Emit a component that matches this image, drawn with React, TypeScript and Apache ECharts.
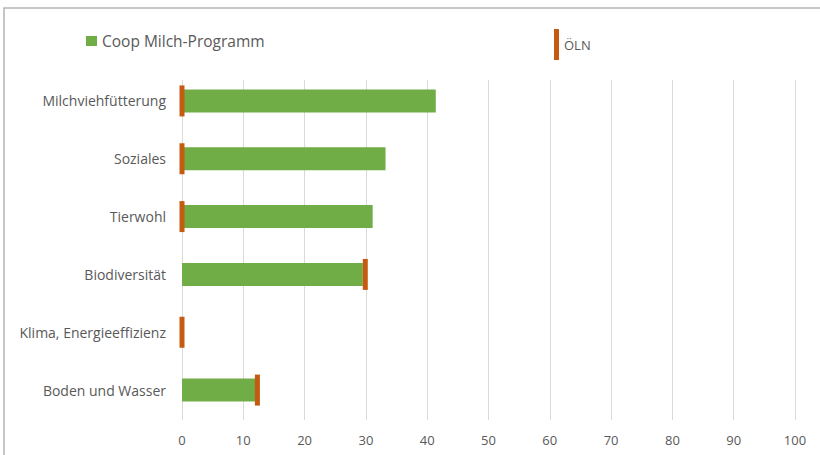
import React, { useEffect, useRef } from "react";
import * as echarts from "echarts";

const categories = [
  "Milchviehfütterung",
  "Soziales",
  "Tierwohl",
  "Biodiversität",
  "Klima, Energieeffizienz",
  "Boden und Wasser",
];
const coopValues = [41.4, 33.2, 31.1, 29.5, 0, 12.0];
const olnValues = [0, 0, 0, 29.9, 0, 12.3];
const xTicks = { min: 0, max: 100, interval: 10 };

export default function App() {
  const ref = useRef<HTMLDivElement>(null);
  useEffect(() => {
    if (!ref.current) return;
    const chart = echarts.init(ref.current, null, { renderer: "svg" });
    const font = "'Open Sans', 'Noto Sans', sans-serif";
    chart.setOption({
      animation: false,
      textStyle: { fontFamily: font },
      graphic: [
        {
          type: "polyline",
          shape: { points: [[4, 470], [4, 8], [830, 8]] },
          style: { stroke: "#b4b4b4", lineWidth: 1.5, fill: "none" },
          silent: true,
        },
      ],
      legend: [
        {
          left: 81,
          top: 28,
          icon: "rect",
          itemWidth: 11,
          itemHeight: 10,
          data: ["Coop Milch-Programm"],
          textStyle: { color: "#595959", fontSize: 15.5, fontFamily: font },
        },
        {
          left: 549,
          top: 24,
          icon: "rect",
          itemWidth: 5,
          itemHeight: 31,
          data: ["ÖLN"],
          itemStyle: { opacity: 1 },
          textStyle: { color: "#595959", fontSize: 13, fontFamily: font },
        },
      ],
      grid: [
        { left: 182, right: 25, top: 72, height: 347, containLabel: false },
        { left: 182, right: 25, top: 80, height: 340, containLabel: false },
      ],
      xAxis: [
        {
          type: "value",
          gridIndex: 0,
          min: xTicks.min,
          max: xTicks.max,
          interval: xTicks.interval,
          axisLine: { show: false },
          axisTick: { show: false },
          axisLabel: { show: false },
          splitLine: { show: false },
        },
        {
          type: "value",
          gridIndex: 1,
          min: xTicks.min,
          max: xTicks.max,
          interval: xTicks.interval,
          axisLine: { show: false },
          axisTick: { show: false },
          axisLabel: { color: "#595959", fontSize: 13, margin: 13, fontFamily: font },
          splitLine: { lineStyle: { color: "#d9d9d9", width: 1 } },
          z: 0,
        },
      ],
      yAxis: [
        {
          type: "category",
          gridIndex: 0,
          data: categories,
          inverse: true,
          axisLine: { show: false },
          axisTick: { show: false },
          axisLabel: { color: "#595959", fontSize: 14, margin: 16, fontFamily: font },
        },
        {
          type: "category",
          gridIndex: 1,
          data: categories,
          show: false,
        },
      ],
      series: [
        {
          name: "Coop Milch-Programm",
          type: "bar",
          xAxisIndex: 0,
          yAxisIndex: 0,
          data: coopValues,
          barWidth: 23,
          itemStyle: { color: "#70ad47" },
          z: 2,
        },
        {
          name: "ÖLN",
          type: "scatter",
          xAxisIndex: 0,
          yAxisIndex: 0,
          data: olnValues.map((v, i) => [v, i]),
          symbol: "rect",
          symbolSize: [5, 31],
          itemStyle: { color: "#c55a11", opacity: 1 },
          z: 3,
        },
      ],
    });
    return () => chart.dispose();
  }, []);
  return <div ref={ref} style={{ width: 820, height: 455, position: "absolute", left: 0, top: 0 }} />;
}
